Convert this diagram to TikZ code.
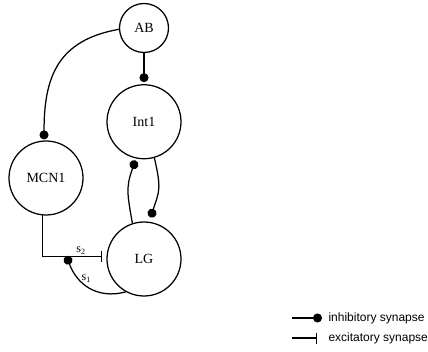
\documentclass[tikz,border=0pt]{standalone}
\usepackage{fontspec}
\setmainfont{Liberation Serif}
\newfontfamily\legendfont{Liberation Sans}
\usetikzlibrary{positioning,arrows.meta}

\tikzset{
  cell/.style={draw,circle,line width=1.25pt,inner sep=0pt,minimum size=74pt,font=\fontsize{14}{16}\selectfont},
  inh/.style={-{Circle[length=9pt,width=9pt]},line width=1.25pt},
  exc/.style={-{Bar[width=11pt]},line width=1.25pt},
  syn/.style={font=\fontsize{12}{14}\selectfont,inner sep=1pt},
  legend/.style={anchor=west,font=\legendfont\fontsize{12}{14}\selectfont},
}

\begin{document}
\begin{tikzpicture}[x=1pt,y=1pt]
  \useasboundingbox (0,0) rectangle (428,-352);
  \node[cell,minimum size=49pt] (AB) at (144,-28) {AB};
  \node[cell,below=31pt of AB] (Int1) {Int1};
  \node[cell,below=62pt of Int1] (LG) {LG};
  \node[cell] (MCN1) at (46,-178) {MCN1};
  \coordinate (s1end) at (66.5,-256);

  %AB>Int1, AB>MCN1
  \draw[inh,shorten >=2pt] (AB) -- (Int1);
  \draw[inh,shorten >=1pt] (AB.183) to[out=190,in=90,looseness=1.2] (MCN1.93);
  %LG>Int1, Int1>LG
  \draw[inh,shorten >=2pt] (LG.108) to[out=100,in=250,looseness=1.2] (Int1.258);
  \draw[inh,shorten >=4.5pt] (Int1.286) to[out=-77,in=72,looseness=1.3] (LG.82);
  %MCN1>LG, LG>s2
  \draw[exc,shorten >=4pt] (MCN1.265) |- node[syn,pos=0.8,above] {s\textsubscript{2}} (LG.176);
  \draw[inh] (LG.241) to[out=195,in=-70,looseness=1.1] node[syn,pos=0.55,above=1pt] {s\textsubscript{1}} (s1end);

  %legend
  \node[legend] (inhlbl) at (325,-318.5) {inhibitory synapse};
  \node[legend] (exclbl) at (325,-338.5) {excitatory synapse};
  \coordinate (inhA) at (292,-318);
  \coordinate (inhB) at (322,-318);
  \coordinate (excA) at (292,-338);
  \coordinate (excB) at (317,-338);
  \draw[inh] (inhA) -- (inhB);
  \draw[exc] (excA) -- (excB);
\end{tikzpicture}
\end{document}
